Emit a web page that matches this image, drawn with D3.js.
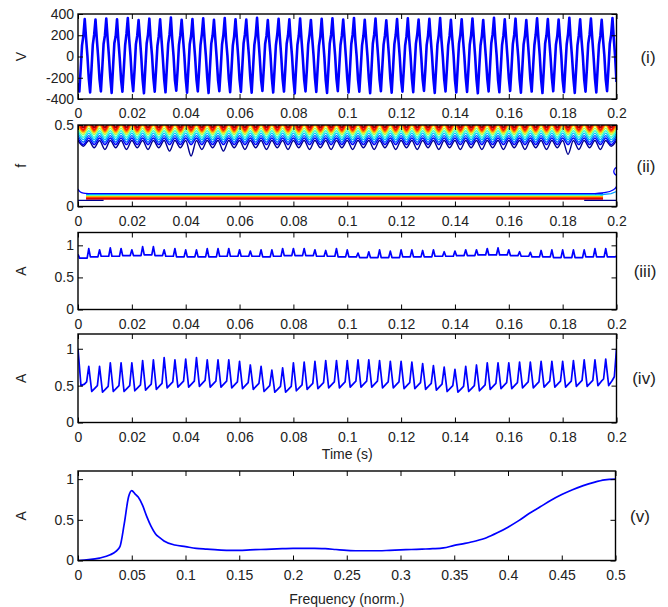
<!DOCTYPE html>
<html>
<head>
<meta charset="utf-8">
<script src="https://cdn.jsdelivr.net/npm/d3@7"></script>
<style>
  html, body { margin: 0; padding: 0; background: #fff; }
  svg { display: block; }
</style>
</head>
<body>
<svg id="chart" width="668" height="607"></svg>
<script>
// ---- data ----
const timeTicks = [0, 0.02, 0.04, 0.06, 0.08, 0.1, 0.12, 0.14, 0.16, 0.18, 0.2];
const freqTicks = [0, 0.05, 0.1, 0.15, 0.2, 0.25, 0.3, 0.35, 0.4, 0.45, 0.5];
const voltTicks = [-400, -200, 0, 200, 400];
const fTicks = [0, 0.5];
const ampTicks = [0, 0.5, 1];

const cyclePeriod = 0.004;   // s, one oscillation
const voltStep = 0.0005;     // s between voltage samples

// (i) voltage, 8 samples per cycle, one row per cycle
const voltage = [
  -250,-330,-115,105,195,352,170,5,
  -205,-338,-125,112,205,348,160,-8,
  -215,-328,-118,118,198,357,172,2,
  -200,-342,-108,125,190,350,150,-15,
  -220,-332,-122,104,212,362,166,6,
  -208,-326,-128,114,196,342,171,-4,
  -218,-346,-112,122,206,356,156,9,
  -203,-331,-121,101,191,349,168,-12,
  -212,-337,-106,119,208,366,161,1,
  -222,-322,-127,109,201,346,174,8,
  -206,-340,-116,116,193,353,158,-6,
  -214,-329,-123,107,209,359,169,3,
  -201,-344,-111,121,197,345,163,-10,
  -219,-327,-119,113,204,361,155,7,
  -209,-336,-126,103,192,351,173,-2,
  -216,-333,-109,124,210,347,159,4,
  -204,-341,-120,110,199,364,167,-9,
  -221,-325,-114,117,194,343,162,10,
  -207,-339,-124,106,207,355,170,-5,
  -213,-330,-117,120,200,350,157,2,
  -211,-347,-107,111,195,358,164,-13,
  -217,-328,-125,115,211,344,171,6,
  -202,-334,-113,102,190,354,160,-3,
  -220,-343,-121,123,203,360,166,8,
  -210,-326,-110,108,196,348,174,-7,
  -206,-338,-128,118,205,363,154,0,
  -218,-332,-116,105,193,346,169,5,
  -203,-345,-122,120,208,357,161,-11,
  -214,-327,-108,112,198,341,172,3,
  -209,-340,-119,116,202,352,158,-4,
  -221,-331,-124,104,191,359,167,9,
  -205,-336,-112,121,209,347,163,-8,
  -216,-324,-127,109,197,355,170,1,
  -208,-343,-115,114,204,362,156,-6,
  -212,-329,-120,107,194,345,168,7,
  -219,-339,-110,119,206,351,162,-2,
  -202,-333,-126,111,199,358,175,4,
  -215,-346,-117,103,192,344,159,-12,
  -207,-328,-109,125,210,364,165,6,
  -220,-337,-123,108,196,349,171,-5,
  -204,-325,-114,117,203,356,157,2,
  -213,-341,-121,113,195,343,166,-9,
  -210,-330,-111,106,207,360,173,8,
  -217,-344,-125,122,200,353,160,-3,
  -203,-327,-118,110,193,347,169,5,
  -222,-335,-107,115,211,365,155,-10,
  -206,-342,-124,104,198,350,164,3,
  -214,-331,-116,120,205,357,172,-7,
  -209,-338,-113,112,194,346,161,6,
  -216,-326,-120,118,202,361,167,-4,
  -240
];

// (ii) contour levels of the time-frequency map, outer (blue) to inner (red)
const contourCrest = [0.405, 0.42, 0.435, 0.45, 0.465, 0.48, 0.495, 0.51, 0.525, 0.54];
const contourDip   = [null, 0.38, 0.395, 0.41, 0.425, 0.44, 0.45, 0.46, 0.47, 0.485];
const contourColors = ['#00008f', '#0000ff', '#0060ff', '#00c0ff', '#30ffcf',
                       '#a0ff60', '#ffe000', '#ff8000', '#ff1000', '#a00000'];
// dip of the outermost contour in each cycle
const outerDip = [0.37,0.36,0.35,0.36,0.35,0.36,0.35,0.36,0.34,0.36,
                  0.31,0.35,0.36,0.34,0.36,0.35,0.36,0.35,0.36,0.35,
                  0.36,0.35,0.36,0.35,0.36,0.35,0.36,0.35,0.36,0.35,
                  0.36,0.35,0.36,0.35,0.36,0.35,0.36,0.35,0.36,0.35,
                  0.36,0.35,0.36,0.35,0.36,0.32,0.35,0.36,0.35,0.37];
const lowLevels = [0.079, 0.072, 0.066, 0.06, 0.054, 0.048];
const lowColors = ['#0000ff', '#00a0ff', '#60ffa0', '#ffd000', '#ff6000', '#e00000'];
const edgeLeftBlue = [[0, 0.108], [0.0008, 0.09], [0.002, 0.082], [0.004, 0.079]];
const edgeRightBlue = [[0.192, 0.079], [0.196, 0.086], [0.199, 0.104], [0.2, 0.122]];
const edgeRightCyan = [[0.194, 0.072], [0.198, 0.079], [0.2, 0.092]];
const edgeLoop = [[0.2, 0.19], [0.1993, 0.2], [0.199, 0.215], [0.1993, 0.23], [0.2, 0.24]];
const darkStubs = [[[0, 0.037], [0.0095, 0.037]], [[0.188, 0.037], [0.2, 0.037]]];

// (iii) amplitude: spike top at each cycle start, baseline in between
const spike3 = [0.86, 0.95,0.93,0.96,0.95,0.93,0.98,0.98,0.93,0.95,0.93,
                0.93,0.95,0.95,0.95,0.93,0.91,0.93,0.93,0.95,0.95,
                0.95,0.93,0.92,0.95,0.93,0.88,0.90,0.93,0.91,0.93,
                0.93,0.92,0.93,0.90,0.91,0.93,0.93,0.95,0.96,0.93,
                0.90,0.89,0.92,0.93,0.93,0.93,0.93,0.95,0.95,0.83];
const base3 = [0.80, 0.82,0.83,0.83,0.84,0.84,0.85,0.84,
               0.83,0.82,0.82,0.82,0.82,0.83,0.83,0.83,
               0.83,0.82,0.83,0.84,0.84,
               0.84,0.83,0.83,0.82,0.82,0.81,0.81,0.81,0.81,0.82,0.82,0.82,
               0.83,0.83,0.84,0.84,0.85,
               0.85,0.85,0.84,0.83,0.82,0.82,0.81,0.81,0.81,0.82,0.82,0.82];

// (iv) amplitude: peak, trough, mid, pre-rise per cycle
const peak4 = [1.0, 0.76,0.76,0.81,0.81,0.81,0.84,0.85,0.88,0.85,0.86,
               0.88,0.85,0.85,0.85,0.83,0.78,0.76,0.71,0.74,0.81,
               0.82,0.83,0.84,0.84,0.84,0.85,0.85,0.84,0.83,0.83,
               0.82,0.80,0.77,0.75,0.72,0.76,0.78,0.81,0.81,0.81,
               0.82,0.82,0.83,0.83,0.83,0.84,0.85,0.85,0.86,1.0];
const trough4 = [0.50, 0.42,0.41,0.42,0.42,0.43,0.44,0.45,
                 0.47,0.48,0.48,0.49,0.48,0.48,0.47,0.46,
                 0.45,0.42,0.41,0.41,0.43,
                 0.45,0.46,0.47,0.47,0.48,0.48,0.48,0.47,0.47,0.46,0.46,0.45,
                 0.44,0.42,0.41,0.42,0.43,
                 0.45,0.46,0.46,0.47,0.47,0.48,0.48,0.48,0.49,0.49,0.50,0.50];
const mid4 = [0.52, 0.47,0.46,0.47,0.47,0.48,0.49,0.50,
              0.52,0.53,0.53,0.54,0.53,0.53,0.52,0.51,
              0.50,0.47,0.46,0.46,0.48,
              0.50,0.51,0.52,0.52,0.53,0.53,0.53,0.52,0.52,0.51,0.51,0.50,
              0.49,0.47,0.46,0.47,0.48,
              0.50,0.51,0.51,0.52,0.52,0.53,0.53,0.53,0.54,0.54,0.56,0.57];
const pre4 = [0.55, 0.50,0.49,0.50,0.50,0.51,0.52,0.53,
              0.55,0.56,0.56,0.57,0.56,0.56,0.55,0.54,
              0.53,0.50,0.49,0.49,0.51,
              0.53,0.54,0.55,0.55,0.56,0.56,0.56,0.55,0.55,0.54,0.54,0.53,
              0.52,0.50,0.49,0.50,0.51,
              0.53,0.54,0.54,0.55,0.55,0.56,0.56,0.56,0.57,0.57,0.59,0.62];

// (v) spectrum
const freq5 = [0,0.01,0.02,0.03,0.035,0.039,0.043,0.047,0.05,0.053,0.056,0.06,0.064,0.068,0.072,0.076,0.08,
               0.09,0.1,0.11,0.12,0.13,0.14,0.15,0.16,0.17,0.18,0.19,0.2,0.21,0.22,0.23,0.24,0.25,0.26,
               0.27,0.28,0.29,0.3,0.31,0.32,0.33,0.34,0.35,0.36,0.37,0.38,0.39,0.4,0.41,0.42,0.43,0.44,
               0.45,0.46,0.47,0.48,0.49,0.5];
const amp5 = [0,0.01,0.03,0.07,0.11,0.17,0.45,0.78,0.86,0.82,0.78,0.68,0.54,0.42,0.33,0.28,0.24,
              0.19,0.17,0.15,0.14,0.13,0.125,0.125,0.13,0.135,0.14,0.145,0.15,0.15,0.15,0.145,0.135,0.125,0.12,
              0.12,0.12,0.125,0.13,0.135,0.14,0.145,0.155,0.185,0.21,0.24,0.28,0.34,0.41,0.49,0.58,0.66,0.74,
              0.81,0.87,0.92,0.96,0.99,1.0];

// ---- layout ----
const svg = d3.select('#chart');
const LEFT = 78;
const FONT = '"Liberation Sans", Arial, Helvetica, sans-serif';
const BLUE = '#0000ff';
const fmt = d => String(+d.toFixed(3));

const panels = [
  { id: 'p1', top: 14,    bottom: 99,    right: 616.5, xDomain: [0, 0.2], xTicks: timeTicks, yDomain: [-400, 400], yTicks: voltTicks, label: 'V', tag: '(i)',   tagX: 648 },
  { id: 'p2', top: 125,   bottom: 206.5, right: 616.5, xDomain: [0, 0.2], xTicks: timeTicks, yDomain: [0, 0.5],    yTicks: fTicks,    label: 'f', tag: '(ii)',  tagX: 646 },
  { id: 'p3', top: 232.5, bottom: 309.5, right: 616.5, xDomain: [0, 0.2], xTicks: timeTicks, yDomain: [0, 1.2],    yTicks: ampTicks,  label: 'A', tag: '(iii)', tagX: 645 },
  { id: 'p4', top: 334,   bottom: 422.5, right: 616.5, xDomain: [0, 0.2], xTicks: timeTicks, yDomain: [0, 1.2],    yTicks: ampTicks,  label: 'A', tag: '(iv)',  tagX: 644 },
  { id: 'p5', top: 471,   bottom: 560.5, right: 615.5, xDomain: [0, 0.5], xTicks: freqTicks, yDomain: [0, 1.1],    yTicks: ampTicks,  label: 'A', tag: '(v)',   tagX: 640 }
];

const defs = svg.append('defs');

const setupPanel = p => {
  const x = d3.scaleLinear().domain(p.xDomain).range([LEFT, p.right]);
  const y = d3.scaleLinear().domain(p.yDomain).range([p.bottom, p.top]);
  defs.append('clipPath').attr('id', 'clip-' + p.id)
    .append('rect')
    .attr('x', LEFT).attr('y', p.top)
    .attr('width', p.right - LEFT).attr('height', p.bottom - p.top);
  const g = svg.append('g');
  const plot = g.append('g').attr('clip-path', `url(#clip-${p.id})`);
  return { x, y, g, plot };
};

const styleAxis = sel => {
  sel.select('.domain').remove();
  sel.selectAll('.tick line').attr('stroke', '#000').attr('stroke-width', 1);
  sel.selectAll('text').attr('fill', '#222');
  sel.attr('font-size', 14).attr('font-family', FONT);
};

const drawFrame = (p, s) => {
  const { x, y, g } = s;
  g.append('g').attr('transform', `translate(0,${p.bottom})`)
    .call(d3.axisBottom(x).tickValues(p.xTicks).tickFormat(fmt).tickSizeInner(-5).tickSizeOuter(0).tickPadding(9.5))
    .call(styleAxis);
  g.append('g').attr('transform', `translate(0,${p.top})`)
    .call(d3.axisTop(x).tickValues(p.xTicks).tickFormat('').tickSizeInner(-5).tickSizeOuter(0))
    .call(styleAxis);
  g.append('g').attr('transform', `translate(${LEFT},0)`)
    .call(d3.axisLeft(y).tickValues(p.yTicks).tickFormat(fmt).tickSizeInner(-5).tickSizeOuter(0).tickPadding(4))
    .call(styleAxis);
  g.append('g').attr('transform', `translate(${p.right},0)`)
    .call(d3.axisRight(y).tickValues(p.yTicks).tickFormat('').tickSizeInner(-5).tickSizeOuter(0))
    .call(styleAxis);

  g.append('rect')
    .attr('x', LEFT).attr('y', p.top)
    .attr('width', p.right - LEFT).attr('height', p.bottom - p.top)
    .attr('fill', 'none').attr('stroke', '#000').attr('stroke-width', 1.4);

  const cy = (p.top + p.bottom) / 2;
  g.append('text')
    .attr('transform', `translate(26,${cy}) rotate(-90)`)
    .attr('text-anchor', 'middle')
    .attr('font-family', FONT).attr('font-size', 14).attr('fill', '#222')
    .text(p.label);
  g.append('text')
    .attr('x', p.tagX).attr('y', cy + 6)
    .attr('text-anchor', 'middle')
    .attr('font-family', FONT).attr('font-size', 17).attr('fill', '#222')
    .text(p.tag);
};

const lineOf = (s, curve) => d3.line()
  .x(d => s.x(d[0])).y(d => s.y(d[1]))
  .curve(curve || d3.curveLinear);

// ---- (i) voltage ----
{
  const p = panels[0], s = setupPanel(p);
  const pts = voltage.map((v, i) => [i * voltStep, v]);
  s.plot.append('path').datum(pts)
    .attr('d', lineOf(s))
    .attr('fill', 'none').attr('stroke', BLUE).attr('stroke-width', 2.6)
    .attr('stroke-linejoin', 'round');
  drawFrame(p, s);
}

// ---- (ii) time-frequency contours ----
{
  const p = panels[1], s = setupPanel(p);
  const nCycles = outerDip.length;
  contourCrest.forEach((crest, i) => {
    const pts = [];
    for (let k = 0; k <= nCycles; k++) {
      pts.push([k * cyclePeriod, crest]);
      if (k < nCycles) pts.push([k * cyclePeriod + cyclePeriod / 2, i === 0 ? outerDip[k] : contourDip[i]]);
    }
    s.plot.append('path').datum(pts)
      .attr('d', lineOf(s, d3.curveMonotoneX))
      .attr('fill', 'none').attr('stroke', contourColors[i])
      .attr('stroke-width', i >= 7 ? 2 : 1.4);
  });
  lowLevels.forEach((f, i) => {
    s.plot.append('path').datum([[0.003, f], [0.195, f]])
      .attr('d', lineOf(s))
      .attr('fill', 'none').attr('stroke', lowColors[i])
      .attr('stroke-width', i >= 4 ? 2 : 1.3);
  });
  [edgeLeftBlue, edgeRightBlue, edgeLoop].forEach(pts => {
    s.plot.append('path').datum(pts)
      .attr('d', lineOf(s, d3.curveMonotoneY))
      .attr('fill', 'none').attr('stroke', '#0000ff').attr('stroke-width', 1.3);
  });
  s.plot.append('path').datum(edgeRightCyan)
    .attr('d', lineOf(s))
    .attr('fill', 'none').attr('stroke', '#00a0ff').attr('stroke-width', 1.3);
  darkStubs.forEach(pts => {
    s.plot.append('path').datum(pts)
      .attr('d', lineOf(s))
      .attr('fill', 'none').attr('stroke', '#00008f').attr('stroke-width', 1.3);
  });
  drawFrame(p, s);
}

// ---- (iii) amplitude ----
{
  const p = panels[2], s = setupPanel(p);
  const pts = [];
  base3.forEach((b, k) => {
    const t = k * cyclePeriod;
    pts.push([t, spike3[k]]);
    pts.push([t + 0.0006, b]);
    pts.push([t + 0.0034, b]);
  });
  pts.push([base3.length * cyclePeriod, spike3[base3.length]]);
  s.plot.append('path').datum(pts)
    .attr('d', lineOf(s))
    .attr('fill', 'none').attr('stroke', BLUE).attr('stroke-width', 1.7)
    .attr('stroke-linejoin', 'round');
  drawFrame(p, s);
}

// ---- (iv) amplitude ----
{
  const p = panels[3], s = setupPanel(p);
  const pts = [];
  trough4.forEach((tr, k) => {
    const t = k * cyclePeriod;
    pts.push([t, peak4[k]]);
    pts.push([t + 0.0011, tr]);
    pts.push([t + 0.0024, mid4[k]]);
    pts.push([t + 0.0032, pre4[k]]);
  });
  pts.push([trough4.length * cyclePeriod, peak4[trough4.length]]);
  s.plot.append('path').datum(pts)
    .attr('d', lineOf(s))
    .attr('fill', 'none').attr('stroke', BLUE).attr('stroke-width', 1.7)
    .attr('stroke-linejoin', 'round');
  drawFrame(p, s);

  svg.append('text')
    .attr('x', (LEFT + p.right) / 2).attr('y', 459)
    .attr('text-anchor', 'middle')
    .attr('font-family', FONT).attr('font-size', 14).attr('fill', '#222')
    .text('Time (s)');
}

// ---- (v) spectrum ----
{
  const p = panels[4], s = setupPanel(p);
  const pts = freq5.map((f, i) => [f, amp5[i]]);
  s.plot.append('path').datum(pts)
    .attr('d', lineOf(s, d3.curveMonotoneX))
    .attr('fill', 'none').attr('stroke', BLUE).attr('stroke-width', 1.7);
  drawFrame(p, s);

  svg.append('text')
    .attr('x', (LEFT + p.right) / 2).attr('y', 604)
    .attr('text-anchor', 'middle')
    .attr('font-family', FONT).attr('font-size', 14).attr('fill', '#222')
    .text('Frequency (norm.)');
}
</script>
</body>
</html>
